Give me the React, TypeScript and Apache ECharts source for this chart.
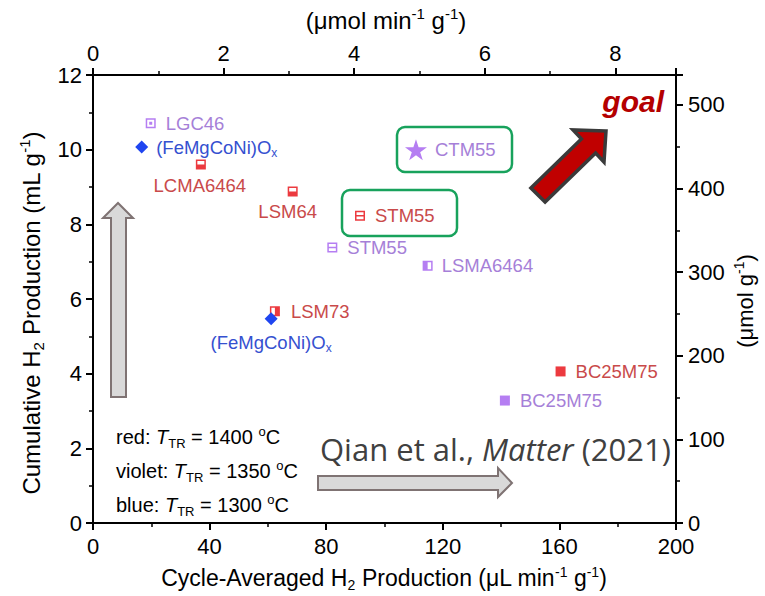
import React, { useEffect, useRef } from 'react';
import * as echarts from 'echarts';

// ---------- data ----------
const sampleNames = ['LGC46', '(FeMgCoNi)Ox', 'LCMA6464', 'LSM64', 'STM55', 'STM55', 'LSMA6464', 'CTM55', 'LSM73', '(FeMgCoNi)Ox', 'BC25M75', 'BC25M75'];
const rateValues = [19.8, 16.7, 37.0, 68.5, 91.6, 82.1, 114.8, 110.8, 62.4, 61.1, 160.4, 141.3]; // µL min-1 g-1
const cumulativeValues = [10.71, 10.07, 9.6, 8.88, 8.23, 7.38, 6.89, 10.0, 5.67, 5.47, 4.06, 3.28]; // mL g-1
const sampleGroups = ['violet', 'blue', 'red', 'red', 'red', 'violet', 'violet', 'violet', 'red', 'blue', 'red', 'violet'];
const markerKinds = ['frameDot', 'diamond', 'bottomHalf', 'bottomHalf', 'splitH', 'splitH', 'leftHalf', 'star', 'rightHalf', 'diamond', 'filled', 'filled'];

const bottomTicks = [0, 40, 80, 120, 160, 200];
const leftTicks = [0, 2, 4, 6, 8, 10, 12];
const topTicks = [0, 2, 4, 6, 8];
const rightTicks = [0, 100, 200, 300, 400, 500];
const molarVolume = 22.4; // mL per mmol -> µL per µmol

const legendLines = [
  'red: {it|T}{sub|TR} = 1400 {sup|o}C',
  'violet: {it|T}{sub|TR} = 1350 {sup|o}C',
  'blue: {it|T}{sub|TR} = 1300 {sup|o}C',
];
const bottomTitle = 'Cycle-Averaged H{sub|2} Production (μL min{sup|-1} g{sup|-1})';
const topTitle = '(μmol min{sup|-1} g{sup|-1})';
const leftTitle = 'Cumulative H{sub|2} Production (mL g{sup|-1})';
const rightTitle = '(μmol g{sup|-1})';
const sourceNote = 'Qian et al., {it|Matter} (2021)';

// ---------- styles ----------
const FONT = '"Liberation Sans", Arial, sans-serif';
const groupColors: Record<string, { marker: string; text: string }> = {
  red: { marker: '#ec3a3f', text: '#c94a4a' },
  violet: { marker: '#b57ef2', text: '#a67fd8' },
  blue: { marker: '#1f45f0', text: '#3550d0' },
};
const symbolPaths: Record<string, string> = {
  frameDot: 'path://M0 0H10V10H0Z M1.5 1.5V8.5H8.5V1.5Z M3.5 3.5H6.5V6.5H3.5Z',
  bottomHalf: 'path://M0 0H10V10H0Z M1.5 1.5V5H8.5V1.5Z',
  splitH: 'path://M0 0H10V10H0Z M1.5 1.5V4.3H8.5V1.5Z M1.5 5.7V8.5H8.5V5.7Z',
  leftHalf: 'path://M0 0H10V10H0Z M5 1.5V8.5H8.5V1.5Z',
  rightHalf: 'path://M0 0H10V10H0Z M1.5 1.5V8.5H5V1.5Z',
  filled: 'rect',
  diamond: 'diamond',
  star: 'path://M5 0L6.123 3.455L9.755 3.455L6.817 5.59L7.939 9.045L5 6.91L2.061 9.045L3.183 5.59L0.245 3.455L3.877 3.455Z',
};
const symbolSizes: Record<string, number> = {
  frameDot: 10, bottomHalf: 10, splitH: 10, leftHalf: 10, rightHalf: 10, filled: 10, diamond: 13, star: 22,
};
// label placement per point (same order as the data arrays)
const labelLayouts: { position: string; distance: number; offset?: number[] }[] = [
  { position: 'right', distance: 10 },
  { position: 'right', distance: 8 },
  { position: 'bottom', distance: 6, offset: [-1, 0] },
  { position: 'bottom', distance: 6, offset: [-5, 0] },
  { position: 'right', distance: 10 },
  { position: 'right', distance: 10 },
  { position: 'right', distance: 9 },
  { position: 'right', distance: 8 },
  { position: 'right', distance: 11 },
  { position: 'bottom', distance: 5, offset: [0, 0] },
  { position: 'right', distance: 10 },
  { position: 'right', distance: 10 },
];

const labelText = (n: string) => n.replace(/Ox$/, 'O{sub|x}');

export default function App() {
  const ref = useRef<HTMLDivElement>(null);
  useEffect(() => {
    document.body.style.margin = '0';
    if (!ref.current) return;
    const chart = echarts.init(ref.current, undefined, { renderer: 'svg' });

    const axisLine = { show: true, onZero: false, lineStyle: { color: '#000', width: 2 } };
    const axisTick = { show: true, inside: false, length: 7, lineStyle: { color: '#000', width: 2 } };
    const minorTick = { show: true, splitNumber: 2, length: 4, lineStyle: { color: '#000', width: 1.5 } };
    const tickLabel = { fontSize: 22, fontFamily: FONT, color: '#000' };

    const titleRich = (size: number) => ({
      sub: { fontSize: Math.round(size * 0.62), fontFamily: FONT, fill: '#000', padding: [Math.round(size * 0.62), 0, 0, 0] },
      sup: { fontSize: Math.round(size * 0.62), fontFamily: FONT, fill: '#000', padding: [0, 0, Math.round(size * 0.55), 0] },
    });
    const titleText = (text: string, x: number, y: number, size: number, rotation = 0) => ({
      type: 'text', x, y, rotation,
      style: { text, fontSize: size, fontFamily: FONT, fill: '#000', align: 'center', verticalAlign: 'middle', rich: titleRich(size) },
    });

    const series = ['red', 'violet', 'blue'].map((g) => ({
      type: 'scatter',
      xAxisIndex: 0,
      yAxisIndex: 0,
      z: g === 'blue' ? 3 : 2,
      data: sampleNames
        .map((n, i) => ({ n, i }))
        .filter(({ i }) => sampleGroups[i] === g)
        .map(({ n, i }) => {
          const kind = markerKinds[i];
          const lay = labelLayouts[i];
          return {
            name: n,
            value: [rateValues[i], cumulativeValues[i]],
            symbol: symbolPaths[kind],
            symbolSize: symbolSizes[kind],
            symbolKeepAspect: true,
            itemStyle: { color: groupColors[g].marker, opacity: 1 },
            label: {
              show: true,
              position: lay.position,
              distance: lay.distance,
              offset: lay.offset || [0, 0],
              formatter: labelText(n),
              fontSize: 18.5,
              fontFamily: FONT,
              color: groupColors[g].text,
              rich: {
                sub: { fontSize: 12, fontFamily: FONT, color: groupColors[g].text, padding: [12, 0, 0, 0] },
              },
            },
          };
        }),
    }));

    const legendRich = {
      it: { fontSize: 20, fontFamily: FONT, fontStyle: 'italic', fill: '#000' },
      sub: { fontSize: 13, fontFamily: FONT, fill: '#000', padding: [13, 0, 0, 0] },
      sup: { fontSize: 13, fontFamily: FONT, fill: '#000', padding: [0, 0, 11, 0] },
    };

    const grayArrow = { fill: '#d9d9d9', stroke: '#7f7373', lineWidth: 2 };

    chart.setOption({
      animation: false,
      backgroundColor: '#fff',
      grid: { left: 93, right: 89, top: 75, bottom: 73, containLabel: false, outerBoundsMode: 'none' },
      xAxis: [
        {
          type: 'value', position: 'bottom', min: bottomTicks[0], max: bottomTicks[bottomTicks.length - 1], interval: bottomTicks[1] - bottomTicks[0],
          axisLine, axisTick, minorTick, splitLine: { show: false }, minorSplitLine: { show: false },
          axisLabel: { ...tickLabel, margin: 12 },
        },
        {
          type: 'value', position: 'top', min: topTicks[0], max: bottomTicks[bottomTicks.length - 1] / molarVolume, interval: topTicks[1] - topTicks[0],
          axisLine, axisTick, minorTick, splitLine: { show: false },
          axisLabel: { ...tickLabel, margin: 11, formatter: (v: number) => (topTicks.includes(v) ? String(v) : '') },
        },
      ],
      yAxis: [
        {
          type: 'value', position: 'left', min: leftTicks[0], max: leftTicks[leftTicks.length - 1], interval: leftTicks[1] - leftTicks[0],
          axisLine, axisTick, minorTick, splitLine: { show: false },
          axisLabel: { ...tickLabel, margin: 11 },
        },
        {
          type: 'value', position: 'right', min: rightTicks[0], max: leftTicks[leftTicks.length - 1] * 1000 / molarVolume, interval: rightTicks[1] - rightTicks[0],
          axisLine, axisTick, minorTick, splitLine: { show: false },
          axisLabel: { ...tickLabel, margin: 12, formatter: (v: number) => (rightTicks.includes(v) ? String(v) : '') },
        },
      ],
      series,
      graphic: [
        titleText(bottomTitle, 384, 578, 23),
        titleText(topTitle, 386, 20, 24),
        titleText(leftTitle, 31, 313, 24, Math.PI / 2),
        titleText(rightTitle, 745, 301, 22, Math.PI / 2),
        { type: 'rect', shape: { x: 397, y: 127, width: 115, height: 45, r: 8 }, style: { fill: 'none', stroke: '#18a25c', lineWidth: 2.5 }, z: 1 },
        { type: 'rect', shape: { x: 342, y: 190, width: 115, height: 46, r: 8 }, style: { fill: 'none', stroke: '#18a25c', lineWidth: 2.5 }, z: 1 },
        {
          type: 'polygon',
          shape: { points: [[111, 397], [111, 218], [103, 218], [118, 203], [133, 218], [126, 218], [126, 397]] },
          style: grayArrow,
        },
        {
          type: 'polygon',
          shape: { points: [[318, 476], [498, 476], [498, 468], [512, 483], [498, 497], [498, 490], [318, 490]] },
          style: grayArrow,
        },
        {
          type: 'polygon',
          shape: { points: [[606, 131], [573, 130], [581.4, 138.9], [530.9, 187.9], [545.1, 202.1], [595.6, 153.1], [604, 162]] },
          style: { fill: '#c00000', stroke: '#3a3a3a', lineWidth: 3.5, lineJoin: 'miter' },
        },
        {
          type: 'text', x: 664, y: 101,
          style: { text: 'goal', fontSize: 30, fontWeight: 'bold', fontStyle: 'italic', fontFamily: FONT, fill: '#b40000', align: 'right', verticalAlign: 'middle' },
        },
        {
          type: 'text', x: 320, y: 449,
          style: {
            text: sourceNote, fontSize: 31, fontFamily: '"Open Sans", sans-serif', fill: '#404040', verticalAlign: 'middle',
            rich: { it: { fontSize: 31, fontFamily: '"Open Sans", sans-serif', fontStyle: 'italic', fill: '#404040' } },
          },
        },
        ...legendLines.map((t, i) => ({
          type: 'text', x: 116, y: 437 + i * 34,
          style: { text: t, fontSize: 20, fontFamily: FONT, fill: '#000', verticalAlign: 'middle', rich: legendRich },
        })),
      ],
    });
    return () => chart.dispose();
  }, []);
  return <div ref={ref} style={{ width: 765, height: 596 }} />;
}
